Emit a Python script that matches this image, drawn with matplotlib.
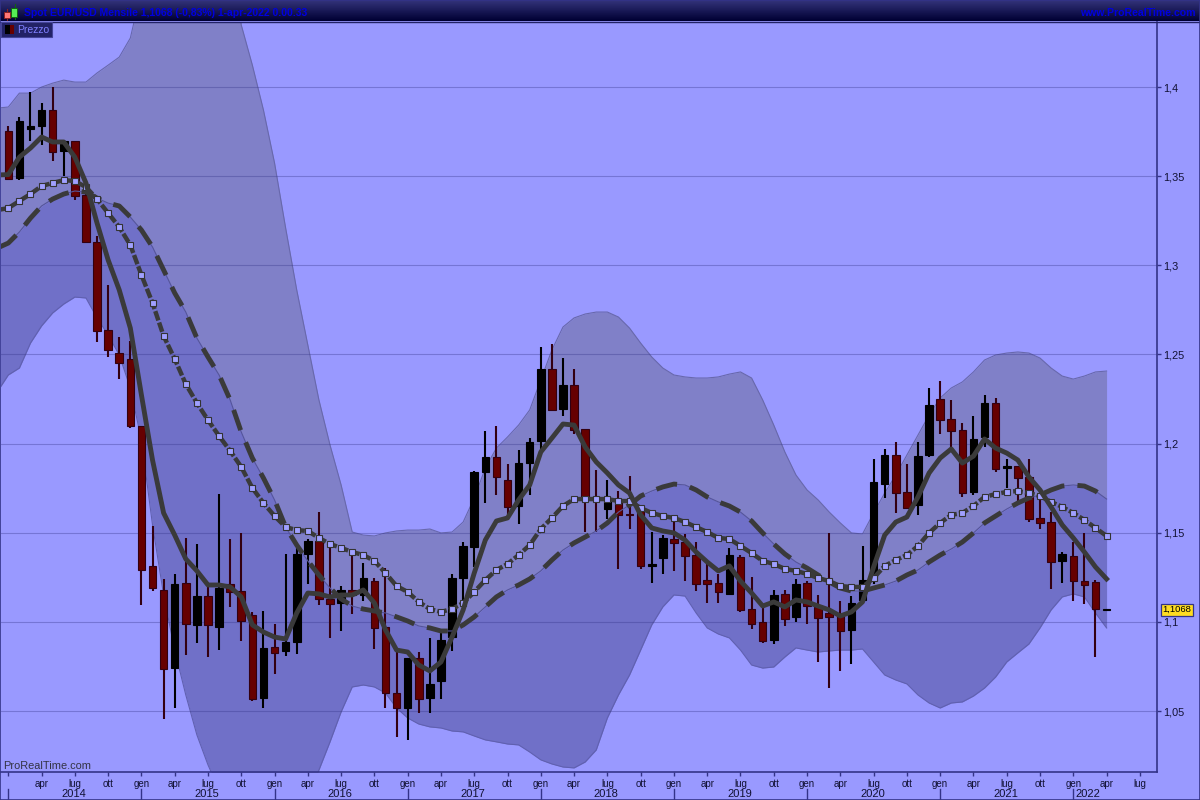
import numpy as np
import matplotlib
matplotlib.use("Agg")
import matplotlib.pyplot as plt
from matplotlib.patches import Rectangle
from matplotlib.transforms import blended_transform_factory

plt.rcParams["font.family"] = ["Liberation Sans", "DejaVu Sans"]

TITLE = "Spot EUR/USD Mensile 1,1068 (-0,83%) 1-apr-2022 0.00.33"
SITE = "www.ProRealTime.com"
LAST_PRICE = 1.1068

# monthly candles, gen 2014 -> apr 2022
opens = [1.3753, 1.349, 1.3765, 1.378, 1.387, 1.364, 1.3697, 1.3394, 1.313, 1.2637, 1.2508, 1.2475,
         1.21, 1.1313, 1.118, 1.074, 1.122, 1.0983, 1.1145, 1.0971, 1.1213, 1.1173, 1.1039, 1.0573,
         1.086, 1.0837, 1.0887, 1.138, 1.1454, 1.1128, 1.1106, 1.118, 1.1151, 1.123, 1.0971, 1.06,
         1.0517, 1.0797, 1.0573, 1.0669, 1.0915, 1.1246, 1.142, 1.1841, 1.1925, 1.1796, 1.165, 1.1891,
         1.2015, 1.2418, 1.2194, 1.2329, 1.2082, 1.17, 1.1633, 1.1678, 1.1608, 1.1628, 1.1316, 1.1358,
         1.1465, 1.1448, 1.1375, 1.1235, 1.1218, 1.1157, 1.1364, 1.1072, 1.0999, 1.0898, 1.1157, 1.1027,
         1.1218, 1.1084, 1.105, 1.1033, 1.0955, 1.1123, 1.1235, 1.1773, 1.1938, 1.1729, 1.1656, 1.1936,
         1.225, 1.2138, 1.2076, 1.1729, 1.2037, 1.2228, 1.1862, 1.1874, 1.1813, 1.1583, 1.156, 1.1342,
         1.137, 1.1229, 1.1224, 1.1068]
highs = [1.378, 1.383, 1.397, 1.391, 1.4, 1.3697, 1.37, 1.342, 1.3165, 1.289, 1.26, 1.2575,
         1.21, 1.1538, 1.124, 1.127, 1.147, 1.1437, 1.1196, 1.1717, 1.1465, 1.15, 1.1055, 1.1062,
         1.0988, 1.138, 1.1414, 1.1465, 1.1616, 1.1437, 1.12, 1.137, 1.133, 1.1246, 1.1302, 1.0832,
         1.0797, 1.0831, 1.091, 1.0955, 1.1269, 1.1448, 1.1846, 1.2071, 1.2099, 1.1886, 1.1964, 1.2031,
         1.2542, 1.2559, 1.248, 1.2418, 1.2082, 1.1854, 1.1796, 1.1734, 1.1818, 1.165, 1.1504, 1.1487,
         1.1572, 1.1493, 1.1448, 1.1325, 1.1269, 1.1414, 1.1375, 1.1252, 1.11, 1.1179, 1.1179, 1.124,
         1.123, 1.115, 1.1499, 1.112, 1.1145, 1.1426, 1.1914, 1.197, 1.2009, 1.1886, 1.2009, 1.2312,
         1.2351, 1.2245, 1.2116, 1.2155, 1.2272, 1.2256, 1.1914, 1.1874, 1.1914, 1.1689, 1.1616, 1.1392,
         1.1448, 1.1499, 1.1235, 1.1072]
lows = [1.3478, 1.348, 1.37, 1.3675, 1.3585, 1.35, 1.3366, 1.313, 1.257, 1.2486, 1.2362, 1.209,
        1.1095, 1.1173, 1.0455, 1.0517, 1.0814, 1.088, 1.0803, 1.0843, 1.1083, 1.0893, 1.0557, 1.0517,
        1.0708, 1.0809, 1.082, 1.1213, 1.1095, 1.091, 1.0949, 1.1044, 1.1117, 1.0848, 1.0517, 1.0355,
        1.0338, 1.0489, 1.0489, 1.0568, 1.0837, 1.1123, 1.1308, 1.1667, 1.1712, 1.16, 1.1549, 1.1712,
        1.1964, 1.2188, 1.2155, 1.2054, 1.1504, 1.1504, 1.1577, 1.1297, 1.1521, 1.1297, 1.1218, 1.1269,
        1.1285, 1.123, 1.1173, 1.1106, 1.1106, 1.1151, 1.1056, 1.096, 1.0882, 1.0876, 1.0977, 1.0999,
        1.0988, 1.0775, 1.0629, 1.0725, 1.0764, 1.1123, 1.1215, 1.1695, 1.161, 1.1639, 1.16, 1.1925,
        1.2054, 1.196, 1.17, 1.1712, 1.1981, 1.1841, 1.1751, 1.1661, 1.156, 1.1521, 1.1185, 1.1218,
        1.1117, 1.11, 1.0803, 1.1063]
closes = [1.3486, 1.381, 1.378, 1.387, 1.3635, 1.3697, 1.339, 1.313, 1.263, 1.2525, 1.245, 1.2098,
          1.129, 1.119, 1.0735, 1.1213, 1.0988, 1.1145, 1.0983, 1.119, 1.1168, 1.1005, 1.0568, 1.0854,
          1.0826, 1.0887, 1.138, 1.1454, 1.1128, 1.11, 1.118, 1.1151, 1.1246, 1.0966, 1.06, 1.0517,
          1.0797, 1.0568, 1.0652, 1.0898, 1.1246, 1.1426, 1.1841, 1.1925, 1.1813, 1.1644, 1.1891, 1.2009,
          1.2418, 1.2188, 1.2329, 1.2076, 1.17, 1.1684, 1.1678, 1.16, 1.1602, 1.1313, 1.1322, 1.147,
          1.1442, 1.137, 1.1213, 1.1213, 1.1168, 1.1375, 1.1067, 1.0988, 1.0893, 1.1151, 1.1016, 1.1213,
          1.1089, 1.1022, 1.1027, 1.0949, 1.1106, 1.1235, 1.1785, 1.1938, 1.1723, 1.1639, 1.193, 1.2217,
          1.2132, 1.2071, 1.1723, 1.2026, 1.2228, 1.1858, 1.1876, 1.1807, 1.1577, 1.1555, 1.1336, 1.138,
          1.1229, 1.1205, 1.1073, 1.1068]

# averages and bands start one month before the first candle, at the left edge
ma_fast = [1.3507, 1.3509, 1.3607, 1.3658, 1.372, 1.3692, 1.3692, 1.3607, 1.3462, 1.3237, 1.303, 1.2862, 1.2648,
           1.2273, 1.1908, 1.1611, 1.1487, 1.1353, 1.1286, 1.1207, 1.1207, 1.1196, 1.114, 1.0983, 1.0943,
           1.0915, 1.0904, 1.105, 1.1162, 1.1157, 1.114, 1.1151, 1.1151, 1.1179, 1.1106, 1.0955, 1.0842,
           1.0831, 1.0758, 1.0725, 1.0775, 1.0915, 1.1067, 1.1274, 1.1459, 1.1566, 1.1583, 1.1684, 1.1768,
           1.1953, 1.2031, 1.211, 1.2104, 1.1981, 1.1897, 1.1835, 1.1768, 1.1723, 1.16, 1.1527, 1.151,
           1.1499, 1.1459, 1.1392, 1.1336, 1.1286, 1.1314, 1.1229, 1.1162, 1.1089, 1.1112, 1.1084, 1.1123,
           1.1112, 1.1089, 1.1067, 1.1033, 1.1056, 1.1112, 1.1308, 1.1487, 1.156, 1.1588, 1.1701, 1.1835,
           1.1919, 1.197, 1.1891, 1.193, 1.2026, 1.1975, 1.1947, 1.1908, 1.1813, 1.174, 1.1645, 1.1544,
           1.1471, 1.1392, 1.1308, 1.1241]
ma_mid = [1.331, 1.3321, 1.3361, 1.34, 1.3445, 1.3462, 1.3478, 1.3473, 1.3439, 1.3372, 1.3293, 1.3215, 1.3114,
          1.2946, 1.2789, 1.2604, 1.2475, 1.2334, 1.2228, 1.2132, 1.2043, 1.1959, 1.1869, 1.1751, 1.1667,
          1.1594, 1.1532, 1.1515, 1.151, 1.1471, 1.1437, 1.1415, 1.1392, 1.1375, 1.1342, 1.1274, 1.1201,
          1.1168, 1.1112, 1.1072, 1.1056, 1.1072, 1.1106, 1.1168, 1.1235, 1.1291, 1.1325, 1.1375, 1.1431,
          1.1521, 1.1583, 1.165, 1.1689, 1.1689, 1.1689, 1.1689, 1.1678, 1.1678, 1.1639, 1.1611, 1.1594,
          1.1583, 1.156, 1.1532, 1.1504, 1.1471, 1.1465, 1.1426, 1.1386, 1.1342, 1.1325, 1.1297, 1.1286,
          1.1269, 1.1246, 1.1229, 1.1201, 1.1196, 1.1196, 1.1246, 1.1314, 1.1347, 1.1375, 1.1426, 1.1499,
          1.1555, 1.16, 1.1611, 1.165, 1.1701, 1.1717, 1.1729, 1.1734, 1.1723, 1.1706, 1.1673, 1.1645,
          1.1611, 1.1572, 1.1527, 1.1482]
ma_slow = [1.3097, 1.3125, 1.3187, 1.3265, 1.3333, 1.3372, 1.34, 1.3417, 1.3411, 1.3377, 1.3349, 1.3333, 1.3271,
           1.3198, 1.3103, 1.2974, 1.2845, 1.2738, 1.2592, 1.2486, 1.2385, 1.2245, 1.2065, 1.1919, 1.1807,
           1.1684, 1.1532, 1.1431, 1.1342, 1.1263, 1.119, 1.1129, 1.1089, 1.1072, 1.1061, 1.105, 1.1028,
           1.1005, 1.0977, 1.0966, 1.0949, 1.0949, 1.0983, 1.1028, 1.1084, 1.114, 1.1179, 1.1207, 1.1241,
           1.1286, 1.1347, 1.1403, 1.1443, 1.1476, 1.151, 1.1555, 1.1616, 1.1656, 1.1706, 1.1734, 1.1757,
           1.1773, 1.1768, 1.174, 1.1701, 1.1673, 1.165, 1.1616, 1.1566, 1.1499, 1.1437, 1.1381, 1.1336,
           1.1302, 1.1263, 1.1224, 1.119, 1.1173, 1.1173, 1.119, 1.1207, 1.1229, 1.1263, 1.1291, 1.1336,
           1.1375, 1.1409, 1.1448, 1.1499, 1.1555, 1.1594, 1.1633, 1.1667, 1.1695, 1.1712, 1.174, 1.1762,
           1.1768, 1.1762, 1.1734, 1.1689]
band_up = [1.3882, 1.3888, 1.3966, 1.3966, 1.4, 1.4022, 1.4039, 1.4028, 1.4028, 1.4079, 1.4123, 1.4168, 1.4275,
           1.4544, 1.4825, 1.5105, 1.5273, 1.5385, 1.5385, 1.5273, 1.5049, 1.4768, 1.4348, 1.4123, 1.3871,
           1.3574, 1.3209, 1.2862, 1.2553, 1.2245, 1.1992, 1.1768, 1.1504, 1.1487, 1.1482, 1.1499, 1.151,
           1.1515, 1.1515, 1.1521, 1.1499, 1.1504, 1.156, 1.1695, 1.1863, 1.1975, 1.2037, 1.2104, 1.2189,
           1.2357, 1.2525, 1.2654, 1.2705, 1.2727, 1.2738, 1.2738, 1.271, 1.2648, 1.2564, 1.2486, 1.2424,
           1.2385, 1.2374, 1.2368, 1.2368, 1.2374, 1.239, 1.2402, 1.2368, 1.2245, 1.2104, 1.1953, 1.1824,
           1.174, 1.1684, 1.1616, 1.1555, 1.1499, 1.1493, 1.1611, 1.1723, 1.1824, 1.1936, 1.2048, 1.216,
           1.2256, 1.2312, 1.2346, 1.2402, 1.2469, 1.2497, 1.2508, 1.2514, 1.2508, 1.248, 1.2424, 1.2379,
           1.2362, 1.2379, 1.2402, 1.2407]
band_low = [1.229, 1.2385, 1.2424, 1.2564, 1.266, 1.2733, 1.2783, 1.2822, 1.2817, 1.2705, 1.2609, 1.2497, 1.2312,
            1.202, 1.1544, 1.1151, 1.0842, 1.059, 1.0366, 1.0198, 1.0057, 1.0001, 0.9973, 0.9945, 0.9945,
            0.9956, 0.9973, 1.0001, 1.0029, 1.0169, 1.0327, 1.0495, 1.0635, 1.0646, 1.0635, 1.0601, 1.0517,
            1.0461, 1.0427, 1.0411, 1.0405, 1.0388, 1.0383, 1.036, 1.0338, 1.0327, 1.0315, 1.031, 1.027,
            1.0226, 1.0203, 1.0186, 1.0181, 1.0214, 1.0282, 1.0461, 1.059, 1.0702, 1.0842, 1.0983, 1.1084,
            1.1151, 1.1145, 1.105, 1.0966, 1.0932, 1.091, 1.0842, 1.0758, 1.0741, 1.0747, 1.0803, 1.0854,
            1.0842, 1.0831, 1.0837, 1.0842, 1.0842, 1.0848, 1.0775, 1.0702, 1.0674, 1.0652, 1.059, 1.0545,
            1.0517, 1.0545, 1.0551, 1.0584, 1.0629, 1.0691, 1.0775, 1.0826, 1.0876, 1.0966, 1.1067, 1.114,
            1.1157, 1.114, 1.105, 1.0966]

price_ticks = [1.05, 1.1, 1.15, 1.2, 1.25, 1.3, 1.35, 1.4]
price_labels = ["1,05", "1,1", "1,15", "1,2", "1,25", "1,3", "1,35", "1,4"]
month_names = ["gen", "apr", "lug", "ott"]
years = ["2014", "2015", "2016", "2017", "2018", "2019", "2020", "2021", "2022"]

BG = "#9999ff"
FRAME = "#333388"
RED = "#660000"
RED_DARK = "#330011"
LINE = "#3a3a3a"


def draw_candles(ax, x):
    for i in x:
        o, h, l, c = opens[i], highs[i], lows[i], closes[i]
        up = c >= o
        wick = "black" if up else RED_DARK
        ax.plot([i, i], [l, h], color=wick, lw=1.5, solid_capstyle="butt", zorder=4)
        ax.add_patch(Rectangle((i - 0.34, min(o, c)), 0.68, max(abs(c - o), 0.0004),
                               facecolor="black" if up else RED, edgecolor=wick, lw=0.8, zorder=5))


def draw_chrome(fig):
    over = fig.add_axes([0, 0, 1, 1], zorder=10)
    over.set_xlim(0, 1200)
    over.set_ylim(800, 0)
    over.axis("off")
    over.patch.set_alpha(0)

    grad = np.linspace(0, 1, 32).reshape(-1, 1)
    cmap = matplotlib.colors.LinearSegmentedColormap.from_list("bar", ["#33337a", "#000033"])
    over.imshow(grad, extent=(0, 1200, 21, 0), aspect="auto", cmap=cmap, zorder=1)
    over.set_xlim(0, 1200)
    over.set_ylim(800, 0)
    over.plot([0, 1200], [21.5, 21.5], color="#222266", lw=1, zorder=2)

    # little candle icon
    over.add_patch(Rectangle((3.5, 11.5), 6, 6, fc="#ff7777", ec="#882222", lw=0.7, zorder=3))
    over.plot([6.5, 6.5], [9, 20], color="#882222", lw=0.8, zorder=2)
    over.add_patch(Rectangle((11, 7.5), 6, 9, fc="#55ee55", ec="#116611", lw=0.7, zorder=3))
    over.plot([14.5, 14.5], [4, 19], color="#116611", lw=0.8, zorder=2)

    over.text(24, 12.5, TITLE, color="#0000e0", fontsize=7.5, fontweight="bold", va="center", zorder=3)
    over.text(1196, 12.5, SITE, color="#0000e0", fontsize=7.6, fontweight="bold", va="center", ha="right", zorder=3)

    # legend tab
    over.add_patch(Rectangle((1, 22), 51, 15, fc="#222266", ec="#444499", lw=0.8, zorder=3))
    over.add_patch(Rectangle((5, 25), 4.5, 9, fc="black", ec="none", zorder=4))
    over.add_patch(Rectangle((9.5, 25), 4.5, 9, fc=RED, ec="none", zorder=4))
    over.text(17.5, 30, "Prezzo", color="#8080ff", fontsize=7.5, va="center", zorder=4)

    over.add_patch(Rectangle((0, 0), 1199.5, 799.5, fc="none", ec=FRAME, lw=1.2, zorder=5))


def main():
    fig = plt.figure(figsize=(12, 8), dpi=100, facecolor=BG)
    ax = fig.add_axes([1 / 1200, 1 - 772 / 800, 1155.5 / 1200, 750 / 800], facecolor=BG)

    candle_x = np.arange(len(closes))
    line_x = np.arange(-1, len(closes))

    ax.fill_between(line_x, ma_slow, band_up, color="#8080c8", lw=0, zorder=1)
    ax.fill_between(line_x, band_low, ma_slow, color="#7070c8", lw=0, zorder=1)
    ax.plot(line_x, band_up, color="#6868ac", lw=0.8, zorder=2)
    ax.plot(line_x, band_low, color="#6060b0", lw=0.8, zorder=2)
    ax.grid(axis="y", color="#333388", alpha=0.35, lw=0.8, zorder=3)
    ax.set_axisbelow(False)
    for line in ax.get_ygridlines():
        line.set_zorder(3)

    draw_candles(ax, candle_x)

    ax.plot(line_x, ma_slow, color="#55559a", lw=0.8, zorder=6)
    ax.plot(line_x, ma_slow, color=LINE, lw=3.5, ls=(0, (4.4, 2.7)), dash_capstyle="butt", zorder=6)
    ax.plot(line_x, ma_mid, color=LINE, lw=3.2, ls=(0, (2.2, 0.5)), dash_capstyle="butt", zorder=6)
    ax.plot(line_x[1:], ma_mid[1:], ls="none", marker="s", ms=3.7, mfc="#a0a0ff", mec="#333333", mew=0.8, zorder=7)
    ax.plot(line_x, ma_fast, color=LINE, lw=3.5, solid_joinstyle="round", zorder=8)

    ax.set_xlim(-0.658, 103.5)
    ax.set_ylim(1.0158, 1.4365)

    ax.yaxis.tick_right()
    ax.set_yticks(price_ticks, price_labels)
    ax.tick_params(axis="y", length=3, width=1, color=FRAME, labelsize=7.8, labelcolor="#111133", pad=2)

    month_pos = np.arange(0, 105, 3)
    month_labels = ["" if m == 0 else month_names[(m % 12) // 3] for m in month_pos]
    ax.set_xticks(month_pos, month_labels)
    ax.tick_params(axis="x", length=3, width=1, color=FRAME, labelsize=7, labelcolor="#111133", pad=2)

    for name in ["top", "left"]:
        ax.spines[name].set_visible(False)
    for name in ["right", "bottom"]:
        ax.spines[name].set_color(FRAME)
        ax.spines[name].set_linewidth(1.2)

    # year row under the months
    trans = blended_transform_factory(ax.transData, ax.transAxes)
    for k, year in enumerate(years):
        start = k * 12
        ax.plot([start, start], [-0.0227, -0.036], transform=trans, color=FRAME, lw=1, clip_on=False)
        label_x = start + 5.9 if k < 8 else start + 1.3
        ax.text(label_x, -0.0295, year, transform=trans, fontsize=8, color="#111133",
                ha="center", va="center", clip_on=False)

    ax.text(2 / 1156, 1 / 750, "ProRealTime.com", transform=ax.transAxes, fontsize=7.9, color="#333344",
            va="bottom", zorder=9)

    # last price tag
    ax.annotate("1,1068", xy=(1, LAST_PRICE), xycoords=("axes fraction", "data"), xytext=(4.5, 0),
                textcoords="offset points", fontsize=6.8, color="black", va="center", ha="left",
                annotation_clip=False, zorder=11,
                bbox=dict(boxstyle="square,pad=0.16", fc="#ffdd22", ec=FRAME, lw=0.9))

    draw_chrome(fig)
    fig.savefig("out.png", dpi=100, facecolor=BG)


if __name__ == "__main__":
    main()
